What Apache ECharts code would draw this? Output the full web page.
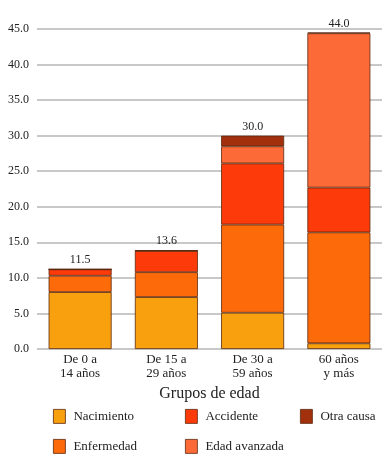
<!DOCTYPE html>
<html>
<head>
<meta charset="utf-8">
<script src="https://cdn.jsdelivr.net/npm/echarts@6/dist/echarts.min.js"></script>
<style>html,body{margin:0;padding:0;background:#fff;}#c{width:391px;height:460px;}</style>
</head>
<body>
<div id="c"></div>
<script>
var categories = ['De 0 a\n14 años', 'De 15 a\n29 años', 'De 30 a\n59 años', '60 años\ny más'];
var nacimiento = [8.0, 7.3, 5.1, 0.8];
var enfermedad = [2.3, 3.5, 12.4, 15.6];
var accidente = [0.9, 3.0, 8.6, 6.3];
var edadAvanzada = [0, 0, 2.4, 21.7];
var otraCausa = [0, 0.1, 1.5, 0.1];
var totals = ['11.5', '13.6', '30.0', '44.0'];
var yTicks = [0, 5, 10, 15, 20, 25, 30, 35, 40, 45];

var FONT = '"Liberation Serif", "DejaVu Serif", serif';
var colors = {
  'Nacimiento': '#F9A00E',
  'Enfermedad': '#FD6A0A',
  'Accidente': '#FD3A0A',
  'Edad avanzada': '#FC6A38',
  'Otra causa': '#A3300C'
};
function mk(name, data, extra) {
  var s = {
    name: name, type: 'bar', stack: 'total', data: data, barWidth: 63,
    itemStyle: { color: colors[name], borderColor: '#5a2a10', borderWidth: 0.8 },
    emphasis: { disabled: true }
  };
  if (extra) Object.assign(s, extra);
  return s;
}
var chart = echarts.init(document.getElementById('c'), null, { renderer: 'canvas' });
function leg(name, left, top) {
  return {
    data: [name], left: left, top: top, orient: 'horizontal', padding: 0,
    itemWidth: 12, itemHeight: 14, itemGap: 8, icon: 'rect',
    textStyle: { fontFamily: FONT, fontSize: 13, color: '#222', padding: [0, 0, 0, 3] },
    itemStyle: { borderColor: '#5a2a10', borderWidth: 0.8 },
    selectedMode: false
  };
}
chart.setOption({
  animation: false,
  textStyle: { fontFamily: FONT },
  grid: { left: 37, right: 9, top: 29, bottom: 111 },
  legend: [
    leg('Nacimiento', 53, 409),
    leg('Accidente', 185, 409),
    leg('Otra causa', 300, 409),
    leg('Enfermedad', 53, 439),
    leg('Edad avanzada', 185, 439)
  ],
  xAxis: {
    type: 'category', data: categories,
    name: 'Grupos de edad', nameLocation: 'middle', nameGap: 35,
    nameTextStyle: { fontFamily: FONT, fontSize: 16, color: '#222' },
    axisLine: { show: false }, axisTick: { show: false },
    axisLabel: { fontFamily: FONT, fontSize: 13, color: '#222', lineHeight: 14, margin: 4 }
  },
  yAxis: {
    type: 'value', min: yTicks[0], max: yTicks[yTicks.length - 1], interval: 5,
    axisLine: { show: false }, axisTick: { show: false },
    axisLabel: { fontFamily: FONT, fontSize: 12, color: '#222', margin: 8,
      formatter: function (v) { return v.toFixed(1); } },
    splitLine: { lineStyle: { color: '#c8c8c8', width: 1.8 } }
  },
  series: [
    mk('Nacimiento', nacimiento),
    mk('Enfermedad', enfermedad),
    mk('Accidente', accidente),
    mk('Edad avanzada', edadAvanzada),
    mk('Otra causa', otraCausa, {
      label: { show: true, position: 'top', distance: 3, fontFamily: FONT, fontSize: 12, color: '#222',
        formatter: function (p) { return totals[p.dataIndex]; } }
    })
  ]
});
</script>
</body>
</html>
